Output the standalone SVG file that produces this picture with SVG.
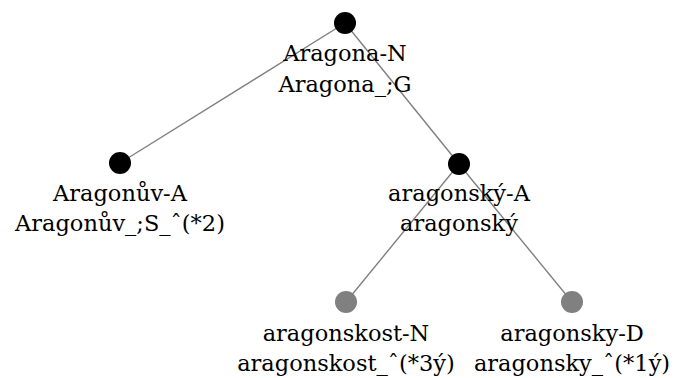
<svg xmlns="http://www.w3.org/2000/svg" width="678" height="378" viewBox="0 0 678 378">
  <style>
    .edge { stroke: #808080; stroke-width: 1.4; fill: none; }
    .dot { fill: #000000; }
    .leaf { fill: #808080; }
  </style>
  <rect width="678" height="378" fill="#ffffff"/>
  <g id="edges">
    <line class="edge" x1="345" y1="23" x2="120" y2="163"/>
    <line class="edge" x1="345" y1="23" x2="459" y2="164"/>
    <line class="edge" x1="459" y1="164" x2="346" y2="302"/>
    <line class="edge" x1="459" y1="164" x2="572" y2="302"/>
  </g>
  <g font-family="DejaVu Serif, Liberation Serif, serif" font-size="22.5" fill="#000000" text-anchor="middle">
    <g id="n-aragona">
      <circle class="dot" cx="345" cy="23" r="11"/>
      <text x="345" y="61">Aragona-N</text>
      <text x="345" y="92">Aragona_;G</text>
    </g>
    <g id="n-aragonuv">
      <circle class="dot" cx="120" cy="163" r="11"/>
      <text x="120" y="201">Aragonův-A</text>
      <text x="120" y="231">Aragonův_;S_ˆ(*2)</text>
    </g>
    <g id="n-aragonsky">
      <circle class="dot" cx="459" cy="164" r="11"/>
      <text x="459" y="201">aragonský-A</text>
      <text x="459" y="231">aragonský</text>
    </g>
    <g id="n-aragonskost">
      <circle class="dot leaf" cx="346" cy="302" r="11"/>
      <text x="346" y="341">aragonskost-N</text>
      <text x="346" y="371">aragonskost_ˆ(*3ý)</text>
    </g>
    <g id="n-aragonsky-d">
      <circle class="dot leaf" cx="572" cy="302" r="11"/>
      <text x="572" y="341">aragonsky-D</text>
      <text x="572" y="371">aragonsky_ˆ(*1ý)</text>
    </g>
  </g>
</svg>
